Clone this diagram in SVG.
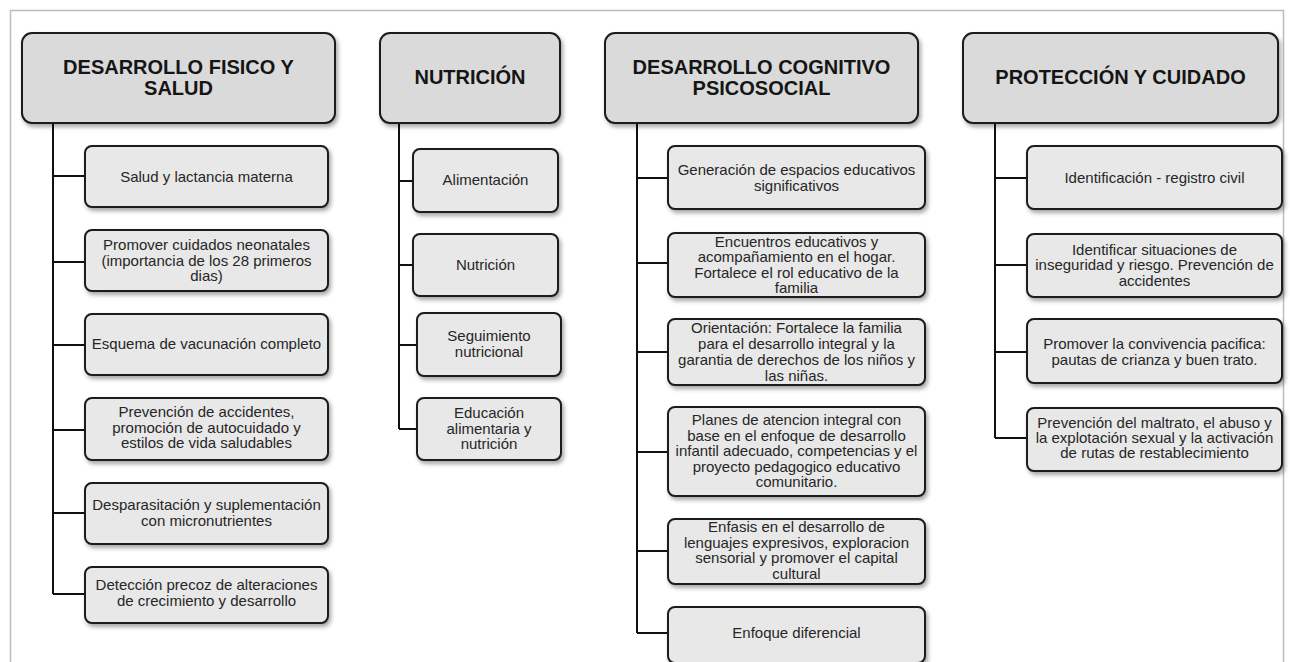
<svg xmlns="http://www.w3.org/2000/svg" width="1290" height="662" viewBox="0 0 1290 662">
<style>
.hdr{fill:#dadada;stroke:#1a1a1a;stroke-width:2;filter:url(#sh)}
.box{fill:#e8e8e8;stroke:#1a1a1a;stroke-width:2;filter:url(#sh)}
.ht{font-family:"Liberation Sans",Arial,sans-serif;font-weight:bold;font-size:20px;fill:#151515;text-anchor:middle}
.bt{font-family:"Liberation Sans",Arial,sans-serif;font-size:15px;fill:#262626;text-anchor:middle}
.ln{stroke:#111;stroke-width:2;fill:none}
</style>
<defs>
<filter id="sh" x="-10%" y="-10%" width="125%" height="135%">
<feDropShadow dx="2" dy="3" stdDeviation="2" flood-color="#000" flood-opacity="0.35"/>
</filter>
</defs>
<rect width="1290" height="662" fill="#fff"/>
<path d="M10.5 670 V10.5 H1283.5 V670" fill="none" stroke="#bdbdbd" stroke-width="1.5"/>

<g id="connectors">
<path class="ln" d="M53 123 V594 M53 176 H85 M53 262 H85 M53 345 H85 M53 430 H85 M53 513 H85 M53 594 H85"/>
<path class="ln" d="M399 123 V429 M399 181 H413 M399 265 H413 M399 345 H417 M399 429 H417"/>
<path class="ln" d="M637 123 V633 M637 178 H668 M637 263 H668 M637 352 H668 M637 452 H668 M637 551 H668 M637 633 H668"/>
<path class="ln" d="M995 123 V438 M995 178 H1027 M995 265 H1027 M995 352 H1027 M995 438 H1027"/>
</g>

<g id="h1"><rect class="hdr" x="22" y="33" width="313" height="90" rx="10"/>
<text class="ht"><tspan x="178.5" y="73.5">DESARROLLO FISICO Y</tspan><tspan x="178.5" y="95">SALUD</tspan></text></g>
<g id="h2"><rect class="hdr" x="380" y="33" width="180" height="90" rx="10"/>
<text class="ht" x="470" y="84">NUTRICIÓN</text></g>
<g id="h3"><rect class="hdr" x="605" y="33" width="313" height="90" rx="10"/>
<text class="ht"><tspan x="761.5" y="73.5">DESARROLLO COGNITIVO</tspan><tspan x="761.5" y="95">PSICOSOCIAL</tspan></text></g>
<g id="h4"><rect class="hdr" x="963" y="33" width="315" height="90" rx="10"/>
<text class="ht" x="1120.5" y="84">PROTECCIÓN Y CUIDADO</text></g>

<g id="c1a"><rect class="box" x="85" y="146" width="243" height="61" rx="7"/>
<text class="bt" x="206.5" y="182">Salud y lactancia materna</text></g>
<g id="c1b"><rect class="box" x="85" y="230" width="243" height="61" rx="7"/>
<text class="bt"><tspan x="206.5" y="250">Promover cuidados neonatales</tspan><tspan x="206.5" y="265.5">(importancia de los 28 primeros</tspan><tspan x="206.5" y="281">dias)</tspan></text></g>
<g id="c1c"><rect class="box" x="85" y="314" width="243" height="61" rx="7"/>
<text class="bt" x="206.5" y="349">Esquema de vacunación completo</text></g>
<g id="c1d"><rect class="box" x="85" y="398" width="243" height="62" rx="7"/>
<text class="bt"><tspan x="206.5" y="417">Prevención de accidentes,</tspan><tspan x="206.5" y="433">promoción de autocuidado y</tspan><tspan x="206.5" y="448">estilos de vida saludables</tspan></text></g>
<g id="c1e"><rect class="box" x="85" y="483" width="243" height="61" rx="7"/>
<text class="bt"><tspan x="206.5" y="510">Desparasitación y suplementación</tspan><tspan x="206.5" y="526">con micronutrientes</tspan></text></g>
<g id="c1f"><rect class="box" x="85" y="567" width="243" height="56" rx="7"/>
<text class="bt"><tspan x="206.5" y="590">Detección precoz de alteraciones</tspan><tspan x="206.5" y="606">de crecimiento y desarrollo</tspan></text></g>

<g id="c2a"><rect class="box" x="413" y="149" width="145" height="63" rx="7"/>
<text class="bt" x="485.5" y="185">Alimentación</text></g>
<g id="c2b"><rect class="box" x="413" y="234" width="145" height="62" rx="7"/>
<text class="bt" x="485.5" y="270">Nutrición</text></g>
<g id="c2c"><rect class="box" x="417" y="313" width="144" height="63" rx="7"/>
<text class="bt"><tspan x="489" y="341">Seguimiento</tspan><tspan x="489" y="357">nutricional</tspan></text></g>
<g id="c2d"><rect class="box" x="417" y="398" width="144" height="62" rx="7"/>
<text class="bt"><tspan x="489" y="418">Educación</tspan><tspan x="489" y="434">alimentaria y</tspan><tspan x="489" y="449">nutrición</tspan></text></g>

<g id="c3a"><rect class="box" x="668" y="146" width="257" height="63" rx="7"/>
<text class="bt"><tspan x="796.5" y="175">Generación de espacios educativos</tspan><tspan x="796.5" y="191">significativos</tspan></text></g>
<g id="c3b"><rect class="box" x="668" y="233" width="257" height="64" rx="7"/>
<text class="bt"><tspan x="796.5" y="246.5">Encuentros educativos y</tspan><tspan x="796.5" y="262">acompañamiento en el hogar.</tspan><tspan x="796.5" y="277.5">Fortalece el rol educativo de la</tspan><tspan x="796.5" y="293">familia</tspan></text></g>
<g id="c3c"><rect class="box" x="668" y="319" width="257" height="66" rx="7"/>
<text class="bt"><tspan x="796.5" y="333">Orientación: Fortalece la familia</tspan><tspan x="796.5" y="349">para el desarrollo integral y la</tspan><tspan x="796.5" y="365">garantia de derechos de los niños y</tspan><tspan x="796.5" y="381">las niñas.</tspan></text></g>
<g id="c3d"><rect class="box" x="668" y="407" width="257" height="89" rx="7"/>
<text class="bt"><tspan x="796.5" y="425">Planes de atencion integral con</tspan><tspan x="796.5" y="441">base en el enfoque de desarrollo</tspan><tspan x="796.5" y="456">infantil adecuado, competencias y el</tspan><tspan x="796.5" y="472">proyecto pedagogico educativo</tspan><tspan x="796.5" y="487">comunitario.</tspan></text></g>
<g id="c3e"><rect class="box" x="668" y="519" width="257" height="65" rx="7"/>
<text class="bt"><tspan x="796.5" y="532">Enfasis en el desarrollo de</tspan><tspan x="796.5" y="548">lenguajes expresivos, exploracion</tspan><tspan x="796.5" y="563">sensorial y promover el capital</tspan><tspan x="796.5" y="579">cultural</tspan></text></g>
<g id="c3f"><rect class="box" x="668" y="607" width="257" height="56" rx="7"/>
<text class="bt" x="796.5" y="638">Enfoque diferencial</text></g>

<g id="c4a"><rect class="box" x="1027" y="146" width="255" height="63" rx="7"/>
<text class="bt" x="1154.5" y="183">Identificación - registro civil</text></g>
<g id="c4b"><rect class="box" x="1027" y="234" width="255" height="63" rx="7"/>
<text class="bt"><tspan x="1154.5" y="255">Identificar situaciones de</tspan><tspan x="1154.5" y="270">inseguridad y riesgo. Prevención de</tspan><tspan x="1154.5" y="286">accidentes</tspan></text></g>
<g id="c4c"><rect class="box" x="1027" y="319" width="255" height="64" rx="7"/>
<text class="bt"><tspan x="1154.5" y="349">Promover la convivencia pacifica:</tspan><tspan x="1154.5" y="365">pautas de crianza y buen trato.</tspan></text></g>
<g id="c4d"><rect class="box" x="1027" y="408" width="255" height="63" rx="7"/>
<text class="bt"><tspan x="1154.5" y="428">Prevención del maltrato, el abuso y</tspan><tspan x="1154.5" y="443">la explotación sexual y la activación</tspan><tspan x="1154.5" y="458">de rutas de restablecimiento</tspan></text></g>
</svg>
